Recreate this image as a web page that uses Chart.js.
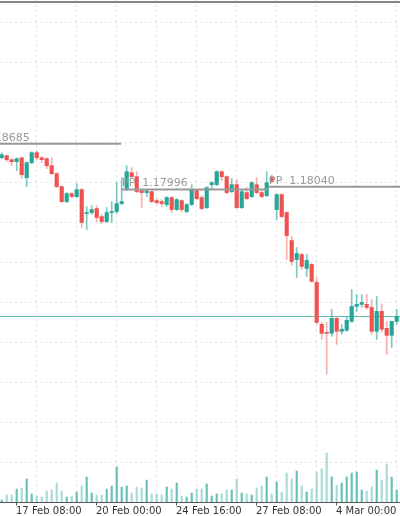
<!DOCTYPE html>
<html><head><meta charset="utf-8">
<script src="https://cdn.jsdelivr.net/npm/chart.js@4/dist/chart.umd.min.js"></script>
<style>html,body{margin:0;padding:0;background:#fff}#w{width:400px;height:516px}</style>
</head><body><div id="w"><canvas id="c"></canvas></div>
<script>
const opens=[1.18476,1.18506,1.18446,1.18416,1.18476,1.18176,1.18401,1.18551,1.18476,1.18461,1.18356,1.18236,1.18041,1.17816,1.17936,1.17891,1.17996,1.17636,1.17651,1.17711,1.17591,1.17516,1.17651,1.17666,1.17786,1.17996,1.18251,1.18191,1.17981,1.17951,1.17966,1.17831,1.17816,1.17771,1.17876,1.17696,1.17831,1.17666,1.17771,1.17981,1.17876,1.17726,1.18071,1.18071,1.18266,1.18191,1.17966,1.18071,1.17726,1.17951,1.17891,1.18071,1.17951,1.17906,1.18176,1.17696,1.17921,1.17651,1.17231,1.16946,1.17021,1.16811,1.16871,1.16601,1.15971,1.15851,1.15836,1.16061,1.15866,1.15881,1.16016,1.16241,1.16271,1.16271,1.16226,1.15866,1.16166,1.15911,1.15806,1.16016];
const highs=[1.18551,1.18521,1.18461,1.18476,1.18476,1.18416,1.18566,1.18581,1.18491,1.18476,1.18476,1.18251,1.18056,1.17951,1.17951,1.18086,1.18011,1.17741,1.17756,1.17756,1.17621,1.17726,1.17816,1.18101,1.18176,1.18356,1.18326,1.18266,1.17996,1.17996,1.17981,1.17861,1.17846,1.17891,1.17891,1.17861,1.17846,1.17786,1.18071,1.17996,1.17906,1.18041,1.18116,1.18281,1.18281,1.18206,1.18161,1.18146,1.17996,1.18026,1.18116,1.18176,1.17981,1.18266,1.18221,1.17936,1.17936,1.17666,1.17291,1.17126,1.17036,1.17021,1.16886,1.16676,1.16001,1.16001,1.16196,1.16076,1.15971,1.16091,1.16496,1.16421,1.16421,1.16421,1.16346,1.16391,1.16271,1.16016,1.16016,1.16196];
const lows=[1.18461,1.18416,1.18356,1.18281,1.18161,1.18041,1.18386,1.18446,1.18401,1.18311,1.18221,1.18026,1.17801,1.17801,1.17876,1.17876,1.17426,1.17396,1.17621,1.17516,1.17486,1.17501,1.17501,1.17636,1.17771,1.17981,1.18176,1.17951,1.17726,1.17891,1.17801,1.17771,1.17741,1.17741,1.17651,1.17681,1.17666,1.17651,1.17756,1.17846,1.17696,1.17711,1.17996,1.18056,1.18131,1.17936,1.17951,1.17711,1.17711,1.17846,1.17876,1.17936,1.17876,1.17891,1.18101,1.17546,1.17576,1.16946,1.16856,1.16676,1.16796,1.16691,1.16601,1.15971,1.15746,1.15221,1.15791,1.15671,1.15821,1.15866,1.16001,1.16166,1.16226,1.16196,1.15821,1.15746,1.15851,1.15521,1.15626,1.15971];
const closes=[1.18521,1.18446,1.18416,1.18461,1.18221,1.18401,1.18551,1.18476,1.18446,1.18356,1.18236,1.18041,1.17816,1.17936,1.17891,1.17996,1.17501,1.17651,1.17696,1.17576,1.17516,1.17651,1.17666,1.17786,1.17816,1.18266,1.18191,1.17966,1.17951,1.17981,1.17816,1.17801,1.17786,1.17876,1.17696,1.17846,1.17696,1.17771,1.17996,1.17861,1.17711,1.18026,1.18101,1.18266,1.18191,1.17951,1.18071,1.17726,1.17966,1.17861,1.18101,1.17951,1.17891,1.18101,1.18116,1.17921,1.17591,1.17306,1.16916,1.17036,1.16841,1.16931,1.16616,1.16001,1.15836,1.15836,1.16061,1.15866,1.15896,1.16031,1.16241,1.16271,1.16301,1.16226,1.15866,1.16166,1.15896,1.15806,1.16016,1.16091];
const volumes=[2,7,7,13,14,23,8,6,5,11,12,19,11,5,6,10,16,25,9,7,7,13,16,35,15,16,9,15,14,22,8,8,7,15,13,19,6,5,9,13,13,18,6,8,8,12,12,23,9,8,7,14,16,25,8,20,10,29,23,31,16,10,13,30,33,49,25,17,19,25,29,30,12,11,15,32,22,38,25,12];
const tickLabels=['17 Feb 08:00','','20 Feb 00:00','','24 Feb 16:00','','27 Feb 08:00','','4 Mar 00:00',''];
const pivotLevels=[1.18685,1.17996,1.18040];
const pivotNames=['PP','PP','PP'];
const pivotSpans=[[-0.34,23.86],[23.86,53.26],[53.26,79.66]];
const supportLevel=1.16091;

const UP='#26a69a',DN='#ef5350';
const idx=opens.map((_,i)=>i);
const isUp=i=>closes[i]>=opens[i];
const wick=idx.map(i=>({x:i,y:[lows[i],highs[i]]}));
const body=idx.map(i=>{let a=Math.min(opens[i],closes[i]),b=Math.max(opens[i],closes[i]);if(b-a<0.00008)b=a+0.00008;return {x:i,y:[a,b]};});
const vol=idx.map(i=>({x:i,y:volumes[i]}));
const tickVals=tickLabels.map((_,k)=>2.86+8*k);

const overlay={id:'ov',beforeDatasetsDraw(ch){const c=ch.ctx,x=ch.scales.x,y=ch.scales.y;c.save();
 c.strokeStyle='#888';c.lineWidth=2;c.beginPath();c.moveTo(0,2);c.lineTo(400,2);c.stroke();
 c.strokeStyle='#5fbfb5';c.lineWidth=1;const sy=Math.round(y.getPixelForValue(supportLevel))+0.5;c.beginPath();c.moveTo(0,sy);c.lineTo(400,sy);c.stroke();
 const by=Math.round(ch.chartArea.bottom)+0.5;c.strokeStyle='#555';c.beginPath();c.moveTo(0,by);c.lineTo(400,by);c.stroke();
 tickVals.forEach((v,k)=>{if(tickLabels[k]){const px=Math.round(x.getPixelForValue(v))+0.5;c.beginPath();c.moveTo(px,by);c.lineTo(px,by+3);c.stroke();}});
 c.restore();},
 afterDatasetsDraw(ch){const c=ch.ctx,x=ch.scales.x,y=ch.scales.y;c.save();
 c.font='11px "DejaVu Sans"';c.fillStyle='#9a9a9a';c.textBaseline='middle';
 pivotLevels.forEach((v,k)=>{const py=y.getPixelForValue(v),x0=x.getPixelForValue(pivotSpans[k][0]),x1=x.getPixelForValue(pivotSpans[k][1]);
  c.strokeStyle='#999';c.lineWidth=2;c.beginPath();c.moveTo(x0,py);c.lineTo(x1,py);c.stroke();
  const tx=k===0?-36:x0+1;c.fillText(pivotNames[k]+'  '+v.toFixed(5),tx,py-6);});
 c.restore();}};

new Chart(document.getElementById('c'),{
 data:{datasets:[
  {type:'bar',label:'vol',data:vol,yAxisID:'v',barThickness:1.5,backgroundColor:idx.map(i=>isUp(i)?'rgba(38,166,154,0.7)':'rgba(38,166,154,0.4)')},
  {type:'bar',label:'wick',data:wick,yAxisID:'y',barThickness:1,backgroundColor:idx.map(i=>isUp(i)?'rgba(38,166,154,0.6)':'rgba(239,83,80,0.45)'),grouped:false},
  {type:'bar',label:'body',data:body,yAxisID:'y',barThickness:3.5,backgroundColor:idx.map(i=>isUp(i)?UP:DN),grouped:false}
 ]},
 options:{responsive:true,maintainAspectRatio:false,animation:false,
  layout:{padding:0},
  plugins:{legend:{display:false},tooltip:{enabled:false}},
  scales:{
   x:{type:'linear',min:-0.34,max:79.66,offset:false,
     afterBuildTicks:s=>{s.ticks=tickVals.map(v=>({value:v}));},
     afterFit:s=>{s.height=14;},
     grid:{color:'#e3e3e3',drawTicks:false},
     border:{display:false,dash:[2,3]},
     ticks:{align:'start',padding:3,autoSkip:false,maxRotation:0,color:'#333',font:{family:'DejaVu Sans',size:10},callback:(v,i)=>tickLabels[i]}},
   y:{type:'linear',min:1.13301,max:1.20846,
     afterBuildTicks:s=>{const t=[];for(let k=0;k<12;k++)t.push({value:1.20501-0.006*k});s.ticks=t;},
     afterFit:s=>{s.width=0;},
     grid:{color:'#e3e3e3',drawTicks:false},border:{display:false,dash:[2,3]},ticks:{display:false}},
   v:{type:'linear',min:0,max:503,display:false}
  }},
 plugins:[overlay]
});
</script></body></html>
